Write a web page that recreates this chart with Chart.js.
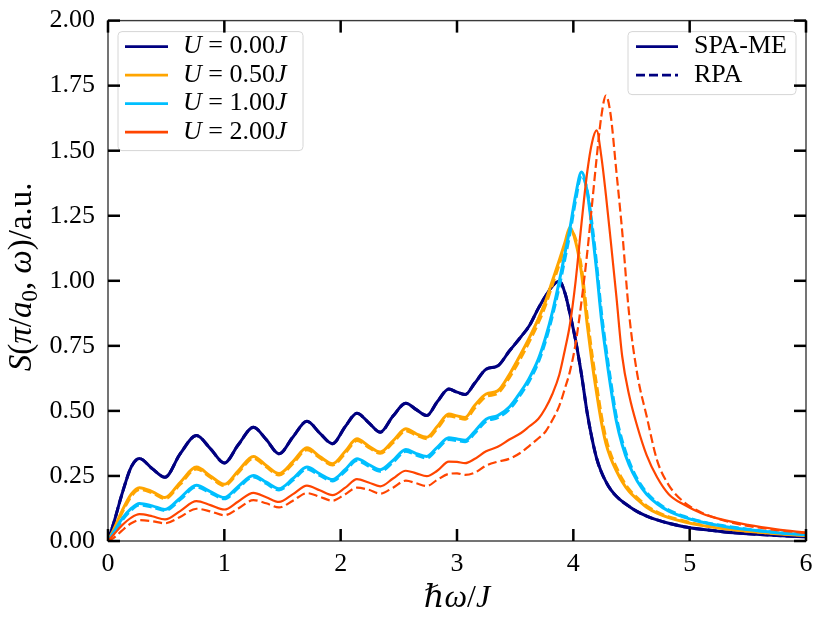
<!DOCTYPE html>
<html>
<head>
<meta charset="utf-8">
<style>
  html, body { margin: 0; padding: 0; background: #fff; }
</style>
<script src="https://cdn.jsdelivr.net/npm/chart.js@4.4.1/dist/chart.umd.min.js"></script>
</head>
<body>
<canvas id="myChart" width="831" height="637"></canvas>
<script>
// frequency grid (hbar*omega / J)
var omega = [0, 0.05, 0.12, 0.2, 0.27, 0.38, 0.49, 0.62, 0.76, 0.88,
  1.0, 1.12, 1.25, 1.36, 1.47, 1.59, 1.71, 1.82, 1.93, 2.04,
  2.14, 2.24, 2.34, 2.45, 2.56, 2.65, 2.74, 2.83, 2.93, 3.0,
  3.07, 3.15, 3.25, 3.35, 3.45, 3.55, 3.62, 3.7, 3.76, 3.82,
  3.88, 3.93, 3.97, 4.02, 4.07, 4.12, 4.16, 4.2, 4.24, 4.28,
  4.32, 4.37, 4.42, 4.48, 4.55, 4.63, 4.72, 4.82, 4.95, 5.1,
  5.3, 5.5, 5.75, 6.0];

var uLabels = ['0.00', '0.50', '1.00', '2.00'];
var methodLabels = ['SPA-ME', 'RPA'];

var spaU0 = [0, 0.07, 0.18, 0.285, 0.317, 0.278, 0.245, 0.335, 0.405, 0.355,
  0.30, 0.37, 0.437, 0.39, 0.335, 0.40, 0.46, 0.415, 0.374, 0.44,
  0.491, 0.455, 0.418, 0.48, 0.529, 0.505, 0.482, 0.535, 0.584, 0.572,
  0.563, 0.605, 0.66, 0.673, 0.73, 0.785, 0.826, 0.895, 0.94, 0.98,
  0.998, 0.95, 0.875, 0.77, 0.64, 0.49, 0.395, 0.318, 0.266, 0.228,
  0.198, 0.172, 0.152, 0.133, 0.113, 0.096, 0.081, 0.068, 0.055, 0.045,
  0.035, 0.028, 0.021, 0.016];
// RPA and SPA-ME coincide for U = 0
var rpaU0 = [0, 0.07, 0.18, 0.285, 0.317, 0.278, 0.245, 0.335, 0.405, 0.355,
  0.30, 0.37, 0.437, 0.39, 0.335, 0.40, 0.46, 0.415, 0.374, 0.44,
  0.491, 0.455, 0.418, 0.48, 0.529, 0.505, 0.482, 0.535, 0.584, 0.572,
  0.563, 0.605, 0.66, 0.673, 0.73, 0.785, 0.826, 0.895, 0.94, 0.98,
  0.998, 0.95, 0.875, 0.77, 0.64, 0.49, 0.395, 0.318, 0.266, 0.228,
  0.198, 0.172, 0.152, 0.133, 0.113, 0.096, 0.081, 0.068, 0.055, 0.045,
  0.035, 0.028, 0.021, 0.016];

var spaU05 = [0, 0.045, 0.115, 0.18, 0.205, 0.19, 0.167, 0.225, 0.284, 0.25,
  0.218, 0.27, 0.325, 0.29, 0.259, 0.305, 0.358, 0.325, 0.297, 0.345,
  0.393, 0.365, 0.342, 0.385, 0.431, 0.412, 0.399, 0.44, 0.488, 0.481,
  0.475, 0.52, 0.565, 0.577, 0.64, 0.72, 0.78, 0.855, 0.92, 1.0,
  1.08, 1.15, 1.205, 1.15, 1.03, 0.83, 0.69, 0.57, 0.46, 0.375,
  0.32, 0.27, 0.228, 0.19, 0.16, 0.13, 0.107, 0.09, 0.074, 0.06,
  0.047, 0.037, 0.028, 0.021];
var rpaU05 = [0, 0.04, 0.108, 0.172, 0.198, 0.185, 0.163, 0.218, 0.277, 0.245,
  0.213, 0.263, 0.318, 0.285, 0.254, 0.298, 0.351, 0.32, 0.292, 0.338,
  0.386, 0.36, 0.337, 0.378, 0.424, 0.407, 0.393, 0.432, 0.48, 0.475,
  0.468, 0.51, 0.555, 0.568, 0.628, 0.705, 0.765, 0.84, 0.905, 0.985,
  1.065, 1.14, 1.195, 1.16, 1.05, 0.86, 0.72, 0.60, 0.485, 0.395,
  0.335, 0.283, 0.238, 0.198, 0.166, 0.135, 0.111, 0.093, 0.077, 0.062,
  0.048, 0.038, 0.029, 0.022];

var spaU10 = [0, 0.035, 0.085, 0.125, 0.144, 0.135, 0.121, 0.165, 0.214, 0.19,
  0.167, 0.21, 0.252, 0.226, 0.201, 0.24, 0.284, 0.258, 0.236, 0.275,
  0.316, 0.294, 0.274, 0.31, 0.352, 0.336, 0.325, 0.36, 0.397, 0.392,
  0.387, 0.42, 0.468, 0.482, 0.515, 0.575, 0.625, 0.70, 0.78, 0.88,
  1.0, 1.11, 1.2, 1.33, 1.418, 1.34, 1.2, 1.04, 0.86, 0.72,
  0.595, 0.46, 0.37, 0.292, 0.23, 0.18, 0.143, 0.115, 0.092, 0.073,
  0.056, 0.044, 0.032, 0.024];
var rpaU10 = [0, 0.03, 0.079, 0.119, 0.138, 0.13, 0.117, 0.159, 0.208, 0.185,
  0.162, 0.204, 0.246, 0.221, 0.196, 0.234, 0.277, 0.252, 0.231, 0.269,
  0.309, 0.288, 0.268, 0.303, 0.345, 0.33, 0.319, 0.353, 0.39, 0.386,
  0.381, 0.413, 0.46, 0.474, 0.506, 0.565, 0.614, 0.688, 0.766, 0.865,
  0.98, 1.09, 1.18, 1.31, 1.405, 1.345, 1.22, 1.065, 0.885, 0.745,
  0.62, 0.478, 0.385, 0.305, 0.238, 0.186, 0.148, 0.119, 0.095, 0.075,
  0.058, 0.045, 0.033, 0.025];

var spaU20 = [0, 0.025, 0.06, 0.09, 0.103, 0.095, 0.083, 0.115, 0.153, 0.138,
  0.121, 0.152, 0.185, 0.168, 0.150, 0.18, 0.213, 0.195, 0.176, 0.205,
  0.238, 0.225, 0.21, 0.24, 0.27, 0.26, 0.249, 0.27, 0.305, 0.304,
  0.299, 0.315, 0.345, 0.362, 0.39, 0.415, 0.44, 0.47, 0.51, 0.565,
  0.64, 0.74, 0.83, 1.0, 1.22, 1.42, 1.53, 1.578, 1.48, 1.33,
  1.16, 0.94, 0.71, 0.56, 0.44, 0.33, 0.245, 0.18, 0.14, 0.107,
  0.08, 0.062, 0.045, 0.032];
var rpaU20 = [0, 0.012, 0.04, 0.068, 0.08, 0.076, 0.068, 0.092, 0.124, 0.114,
  0.099, 0.125, 0.157, 0.145, 0.129, 0.155, 0.184, 0.17, 0.155, 0.18,
  0.205, 0.197, 0.182, 0.205, 0.232, 0.222, 0.211, 0.235, 0.258, 0.26,
  0.254, 0.262, 0.29, 0.305, 0.316, 0.34, 0.365, 0.395, 0.42, 0.465,
  0.52, 0.59, 0.65, 0.76, 0.92, 1.11, 1.29, 1.47, 1.63, 1.712,
  1.64, 1.42, 1.19, 0.87, 0.64, 0.48, 0.31, 0.215, 0.15, 0.11,
  0.078, 0.058, 0.042, 0.031];

var xTicks = [0, 1, 2, 3, 4, 5, 6];
var yTicks = [0, 0.25, 0.5, 0.75, 1.0, 1.25, 1.5, 1.75, 2.0];

var colors = ['#000080', '#FFA500', '#00BFFF', '#FF4500'];
var widths = [3, 3, 3, 2.2];
var dash = [9, 4];
var serif = "'Liberation Serif', 'DejaVu Serif', serif";

var spaSeries = [spaU0, spaU05, spaU10, spaU20];
var rpaSeries = [rpaU0, rpaU05, rpaU10, rpaU20];

function points(vals) {
  return omega.map(function (x, i) { return { x: x, y: vals[i] }; });
}

var datasets = [];
var seq = 0;
for (var n = 0; n < 4; n++) {
  datasets.push({
    label: 'SPA-ME U=' + uLabels[n],
    data: points(spaSeries[n]),
    borderColor: colors[n], borderWidth: widths[n],
    pointRadius: 0, fill: false, cubicInterpolationMode: 'monotone',
    order: 100 - (seq++)
  });
  datasets.push({
    label: 'RPA U=' + uLabels[n],
    data: points(rpaSeries[n]),
    borderColor: colors[n], borderWidth: widths[n], borderDash: dash,
    pointRadius: 0, fill: false, cubicInterpolationMode: 'monotone',
    order: 100 - (seq++)
  });
}

// draw text pieces with mixed upright / italic faces
function runs(g, parts, x, y, size, align) {
  var total = 0;
  parts.forEach(function (p) {
    g.font = (p.i ? 'italic ' : '') + Math.round(size * (p.s || 1)) + 'px ' + serif;
    p.w = g.measureText(p.t).width;
    total += p.w;
  });
  var cx = align === 'center' ? x - total / 2 : x;
  parts.forEach(function (p) {
    g.font = (p.i ? 'italic ' : '') + Math.round(size * (p.s || 1)) + 'px ' + serif;
    g.fillText(p.t, cx, y + (p.dy || 0));
    cx += p.w;
  });
}

function legendBox(g, x, y, w, h) {
  g.save();
  g.beginPath();
  g.roundRect(x, y, w, h, 4);
  g.fillStyle = 'rgba(255,255,255,0.8)';
  g.fill();
  g.strokeStyle = '#d6d6d6';
  g.lineWidth = 1;
  g.stroke();
  g.restore();
}

function sample(g, x1, x2, y, color, width, d) {
  g.save();
  g.strokeStyle = color;
  g.lineWidth = width;
  g.setLineDash(d || []);
  g.beginPath();
  g.moveTo(x1, y);
  g.lineTo(x2, y);
  g.stroke();
  g.restore();
}

var legends = {
  id: 'legends',
  afterDraw: function (chart) {
    var g = chart.ctx, a = chart.chartArea;
    g.save();
    g.textBaseline = 'middle';

    legendBox(g, a.left + 10, a.top + 11, 185, 119);
    for (var k = 0; k < 4; k++) {
      var ry = a.top + 26 + k * 28.5;
      sample(g, a.left + 17, a.left + 60, ry, colors[k], 2.6);
      g.fillStyle = '#000';
      runs(g, [{ t: 'U', i: true }, { t: ' = ' + uLabels[k] }, { t: 'J', i: true }],
        a.left + 75, ry, 26, 'left');
    }

    legendBox(g, a.right - 178, a.top + 11, 168, 63);
    for (var m = 0; m < 2; m++) {
      var my = a.top + 26 + m * 28.5;
      sample(g, a.right - 170, a.right - 128, my, colors[0], 2.6, m === 1 ? dash : null);
      g.fillStyle = '#000';
      runs(g, [{ t: methodLabels[m] }], a.right - 112, my, 26, 'left');
    }

    // axis titles
    g.textBaseline = 'alphabetic';
    g.fillStyle = '#000';
    runs(g, [{ t: 'ℏω', i: true }, { t: '/' }, { t: 'J', i: true }],
      (a.left + a.right) / 2, 607, 32, 'center');

    g.save();
    g.translate(31, (a.top + a.bottom) / 2 - 4);
    g.rotate(-Math.PI / 2);
    runs(g, [
      { t: 'S', i: true }, { t: '(' }, { t: 'π', i: true }, { t: '/' },
      { t: 'a', i: true }, { t: '0', s: 0.7, dy: 6 }, { t: ', ' },
      { t: 'ω', i: true }, { t: ')/a.u.' }
    ], 0, 0, 33, 'center');
    g.restore();
    g.restore();
  }
};

// frame and inward tick marks on all four sides
var frame = {
  id: 'frame',
  afterDraw: function (chart) {
    var g = chart.ctx, a = chart.chartArea;
    var xs = chart.scales.x, ys = chart.scales.y;
    g.save();
    g.strokeStyle = '#3a3a3a';
    g.lineWidth = 1.4;
    g.strokeRect(a.left, a.top, a.right - a.left, a.bottom - a.top);
    g.fillStyle = '#000';
    xTicks.forEach(function (v) {
      var px = xs.getPixelForValue(v);
      g.fillRect(px - 1.25, a.bottom - 12, 2.5, 12);
      g.fillRect(px - 1.25, a.top, 2.5, 12);
    });
    yTicks.forEach(function (v) {
      var py = ys.getPixelForValue(v);
      g.fillRect(a.left, py - 1.25, 12, 2.5);
      g.fillRect(a.right - 12, py - 1.25, 12, 2.5);
    });
    g.restore();
  }
};

var ctx = document.getElementById('myChart').getContext('2d');
var myChart = new Chart(ctx, {
  type: 'line',
  data: { datasets: datasets },
  plugins: [legends, frame],
  options: {
    responsive: false,
    animation: false,
    layout: { padding: { left: 0, right: 25, top: 8.4, bottom: 0 } },
    plugins: { legend: { display: false }, tooltip: { enabled: false } },
    scales: {
      x: {
        type: 'linear', min: 0, max: 6,
        afterBuildTicks: function (scale) {
          scale.ticks = xTicks.map(function (v) { return { value: v }; });
        },
        afterFit: function (scale) { scale.height = 96; },
        ticks: {
          color: '#000', padding: 0, maxRotation: 0,
          font: { family: serif, size: 26 },
          callback: function (v) { return String(v); }
        },
        grid: { display: false },
        border: { display: false }
      },
      y: {
        type: 'linear', min: 0, max: 2,
        afterBuildTicks: function (scale) {
          scale.ticks = yTicks.map(function (v) { return { value: v }; });
        },
        afterFit: function (scale) { scale.width = 108; },
        ticks: {
          color: '#000', padding: 5,
          font: { family: serif, size: 26 },
          callback: function (v) { return Number(v).toFixed(2); }
        },
        grid: { display: false },
        border: { display: false }
      }
    }
  }
});
</script>
</body>
</html>
